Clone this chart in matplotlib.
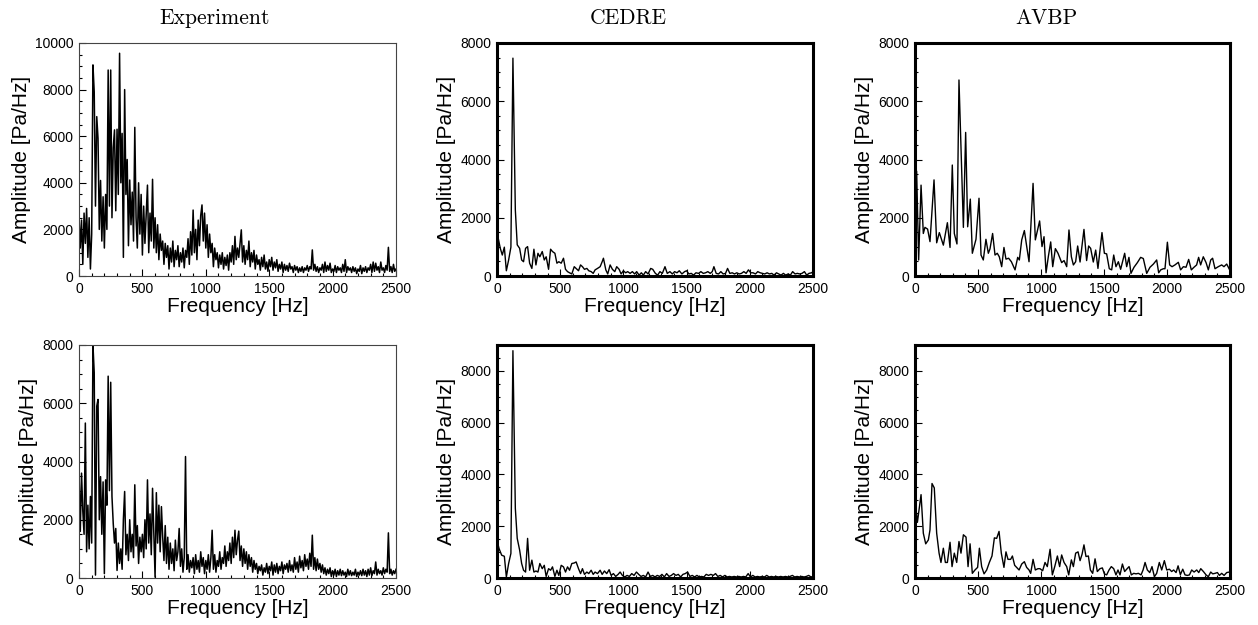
import numpy as np
import matplotlib
matplotlib.use('Agg')
import matplotlib.pyplot as plt
from matplotlib.ticker import MultipleLocator

plt.rcParams['font.family'] = 'Liberation Sans'

# column titles
titles = ['Experiment', 'CEDRE', 'AVBP']

# Experiment spectra, 10 Hz bins from 0 Hz
exp_top_amp = [
    2600, 1200, 2400, 500, 2700, 1400, 2900, 800, 2500, 300,
    1800, 9060, 7900, 3000, 6840, 5900, 2000, 4100, 1500, 3400,
    1200, 3500, 2000, 8840, 3000, 8840, 2500, 5500, 6270, 2800,
    6300, 3500, 9560, 4000, 6120, 800, 8000, 3500, 5000, 1300,
    4120, 2200, 3600, 1500, 6380, 2500, 1200, 4000, 1800, 3500,
    900, 3000, 1400, 2600, 3900, 1000, 2700, 1500, 4150, 1200,
    2500, 1000, 2200, 700, 1800, 1100, 1500, 500, 1400, 800,
    1300, 300, 1200, 600, 1500, 400, 1100, 700, 1300, 400,
    1000, 600, 1200, 350, 1100, 800, 1600, 500, 1900, 900,
    2830, 1000, 2000, 700, 2400, 1300, 2600, 3050, 1500, 2700,
    1200, 2200, 800, 1800, 1000, 1400, 400, 1200, 700, 1000,
    350, 900, 500, 1000, 300, 800, 450, 900, 250, 1000,
    600, 1300, 500, 1700, 700, 1200, 800, 1400, 1980, 600,
    1300, 500, 1100, 700, 1500, 400, 1000, 600, 1100, 300,
    900, 500, 700, 250, 800, 400, 900, 300, 600, 200,
    700, 400, 800, 250, 600, 350, 700, 200, 500, 300,
    600, 150, 500, 250, 450, 200, 550, 300, 400, 150,
    450, 250, 400, 150, 350, 200, 400, 150, 350, 250,
    450, 200, 400, 300, 1120, 250, 500, 200, 400, 150,
    350, 250, 500, 150, 600, 200, 450, 250, 550, 150,
    300, 200, 450, 150, 400, 250, 350, 150, 500, 200,
    700, 150, 400, 250, 350, 150, 400, 200, 350, 100,
    300, 200, 450, 100, 350, 200, 400, 150, 350, 250,
    500, 150, 600, 200, 550, 250, 400, 150, 600, 250,
    350, 150, 450, 250, 1230, 200, 400, 150, 500, 200,
    300,
]

exp_bot_amp = [
    3700, 1600, 3600, 2300, 1500, 5320, 900, 2500, 1000, 2800,
    1200, 8000, 7050, 100, 5900, 6130, 2000, 3480, 1500, 3300,
    150, 3370, 2500, 6930, 3000, 6720, 2800, 1870, 1200, 1700,
    260, 1200, 500, 1000, 300, 2000, 2970, 800, 1500, 600,
    2000, 900, 1500, 700, 3200, 1100, 1800, 500, 1400, 900,
    1500, 700, 2000, 1000, 3370, 1200, 2200, 800, 3080, 1500,
    30, 2930, 1200, 2500, 900, 2450, 1400, 600, 1800, 500,
    1400, 300, 1200, 500, 1000, 250, 1300, 600, 900, 1700,
    400, 1000, 200, 700, 4170, 300, 800, 200, 600, 350,
    700, 150, 800, 300, 600, 200, 900, 400, 700, 150,
    600, 300, 800, 200, 700, 1640, 300, 800, 200, 600,
    400, 900, 300, 700, 500, 1100, 400, 900, 600, 1200,
    500, 1400, 700, 1640, 800, 1300, 1610, 600, 1100, 400,
    1000, 500, 900, 300, 800, 400, 700, 200, 600, 300,
    500, 150, 400, 250, 450, 100, 350, 200, 500, 150,
    400, 250, 550, 100, 450, 200, 500, 150, 400, 250,
    550, 150, 450, 300, 500, 200, 600, 250, 450, 200,
    700, 300, 550, 200, 750, 350, 600, 250, 800, 400,
    650, 300, 850, 400, 1470, 300, 700, 250, 650, 300,
    500, 200, 450, 150, 350, 100, 300, 150, 350, 50,
    250, 100, 300, 50, 250, 100, 300, 80, 250, 100,
    200, 50, 300, 100, 250, 80, 200, 100, 300, 50,
    200, 100, 250, 80, 300, 100, 250, 50, 300, 100,
    350, 80, 250, 150, 550, 100, 300, 150, 250, 100,
    350, 150, 300, 200, 1550, 150, 300, 100, 250, 150,
    300,
]

# CEDRE spectra
cedre_top_freq = [
    0, 26, 42, 58, 74, 92, 110, 126, 145, 160, 179, 195, 210, 226, 242,
    258, 276, 292, 308, 324, 339, 358, 374, 389, 408, 424, 439, 458, 474,
    489, 508, 526, 542, 558, 574, 592, 611, 626, 645, 661, 676, 692, 711,
    726, 745, 761, 776, 795, 816, 832, 842, 861, 876, 895, 913, 932, 947,
    966, 982, 1000, 1018, 1034, 1053, 1071, 1089, 1105, 1124, 1142, 1158,
    1176, 1195, 1216, 1232, 1253, 1271, 1289, 1308, 1329, 1347, 1368, 1387,
    1405, 1424, 1442, 1463, 1484, 1500, 1518, 1537, 1555, 1574, 1595, 1613,
    1632, 1650, 1668, 1687, 1703, 1716, 1734, 1753, 1771, 1789, 1808, 1824,
    1842, 1861, 1879, 1897, 1916, 1934, 1953, 1971, 1989, 2008, 2026, 2045,
    2063, 2082, 2100, 2118, 2137, 2155, 2174, 2192, 2211, 2229, 2247, 2266,
    2284, 2303, 2321, 2339, 2358, 2376, 2395, 2413, 2432, 2450, 2468, 2489,
    2500,
]
cedre_top_amp = [
    1500, 950, 720, 990, 180, 550, 990, 7480, 2270, 1070, 950, 550, 490, 950, 1010,
    440, 260, 920, 380, 780, 660, 840, 550, 660, 230, 920, 840, 780, 440,
    490, 440, 610, 230, 150, 110, 70, 320, 260, 180, 380, 320, 230, 260,
    180, 150, 90, 210, 260, 320, 490, 610, 210, 70, 380, 230, 150, 320,
    230, 70, 180, 110, 150, 90, 150, 70, 150, 30, 110, 30,
    150, 70, 260, 230, 90, 30, 150, 90, 320, 90, 150, 70,
    150, 110, 180, 70, 150, 180, 70, 90, 30, 110, 90, 150,
    90, 110, 150, 90, 150, 320, 90, 70, 150, 70, 90, 260,
    90, 110, 70, 110, 70, 90, 150, 90, 210, 110, 110, 70,
    150, 110, 90, 70, 110, 70, 90, 30, 110, 70, 30, 90,
    30, 70, 30, 150, 70, 90, 70, 90, 150, 30, 90, 110,
    150,
]

cedre_bot_freq = [
    0, 16, 37, 58, 74, 92, 110, 126, 145, 160, 179, 195, 210, 226, 242,
    258, 276, 292, 308, 324, 339, 358, 374, 389, 408, 424, 439, 458, 474,
    489, 508, 526, 542, 558, 574, 592, 611, 626, 645, 661, 676, 692, 711,
    726, 745, 761, 776, 795, 816, 832, 850, 868, 887, 903, 921, 939, 958,
    974, 992, 1011, 1029, 1047, 1066, 1084, 1103, 1121, 1139, 1158, 1176,
    1195, 1213, 1232, 1250, 1268, 1287, 1305, 1324, 1342, 1361, 1379, 1397,
    1416, 1434, 1453, 1471, 1489, 1508, 1526, 1545, 1563, 1582, 1600, 1618,
    1637, 1655, 1674, 1692, 1711, 1729, 1747, 1766, 1784, 1803, 1821, 1839,
    1858, 1876, 1895, 1913, 1932, 1950, 1968, 1987, 2005, 2024, 2042, 2061,
    2079, 2097, 2116, 2134, 2153, 2171, 2189, 2208, 2226, 2245, 2263, 2282,
    2300, 2318, 2337, 2355, 2374, 2392, 2411, 2429, 2447, 2466, 2484, 2500,
]
cedre_bot_amp = [
    1460, 1140, 880, 840, 40, 560, 950, 8780, 2690, 1530, 1080, 560, 300, 230, 1530,
    300, 690, 230, 270, 230, 560, 360, 490, 60, 360, 300, 430, 60, 300,
    100, 490, 430, 230, 430, 300, 560, 580, 620, 360, 170, 360, 140, 230,
    170, 300, 140, 230, 170, 300, 140, 270, 170, 320, 100, 170, 60, 140,
    230, 100, 40, 100, 60, 170, 100, 230, 140, 60, 100, 40,
    230, 60, 100, 40, 100, 60, 140, 40, 170, 60, 100, 170,
    100, 140, 40, 140, 170, 230, 60, 100, 40, 100, 40, 60,
    40, 140, 100, 140, 100, 170, 60, 100, 40, 100, 40, 60,
    40, 60, 40, 60, 40, 60, 40, 170, 40, 100, 40, 60,
    40, 60, 40, 100, 40, 60, 40, 60, 40, 60, 40, 60,
    40, 60, 100, 40, 60, 40, 60, 40, 60, 100, 40, 60,
]

# AVBP spectra
avbp_top_freq = [
    0, 13, 29, 48, 66, 79, 100, 119, 151, 172, 193, 225, 257, 278, 296,
    312, 333, 349, 384, 402, 418, 439, 455, 484, 508, 524, 542, 563, 582,
    595, 616, 635, 653, 669, 688, 706, 722, 743, 765, 794, 815, 828, 847,
    868, 886, 905, 937, 955, 989, 1008, 1024, 1040, 1058, 1077, 1093, 1114,
    1135, 1164, 1183, 1204, 1222, 1241, 1257, 1275, 1291, 1310, 1341, 1362,
    1378, 1394, 1415, 1434, 1452, 1484, 1503, 1521, 1542, 1561, 1577, 1595,
    1614, 1632, 1664, 1680, 1698, 1714, 1738, 1765, 1791, 1812, 1839, 1865,
    1892, 1918, 1934, 1950, 1971, 1984, 2003, 2021, 2040, 2063, 2090, 2108,
    2130, 2151, 2172, 2193, 2214, 2235, 2251, 2267, 2288, 2310, 2328, 2347,
    2362, 2381, 2407, 2434, 2452, 2474, 2495,
]
avbp_top_amp = [
    3640, 3600, 550, 3120, 1460, 1670, 1610, 1180, 3300, 1140, 1490, 1060, 1830, 980, 3810,
    1460, 1100, 6730, 1670, 4930, 1690, 2640, 780, 1260, 2670, 720, 550, 1260, 780,
    930, 1460, 720, 780, 660, 320, 980, 580, 610, 490, 210, 640, 550, 1240,
    1560, 1030, 490, 3180, 1240, 1890, 1010, 1350, 110, 660, 1170, 320, 940,
    780, 460, 530, 320, 1580, 660, 380, 490, 1030, 480, 1600, 530,
    1030, 950, 480, 890, 260, 1490, 780, 760, 250, 210, 720, 320,
    490, 230, 780, 320, 640, 90, 300, 460, 640, 600, 90, 300,
    410, 550, 110, 210, 250, 250, 1160, 380, 320, 380, 470, 210,
    320, 300, 570, 210, 300, 380, 640, 380, 660, 460, 210, 550,
    610, 250, 320, 380, 320, 410, 230,
]

avbp_bot_freq = [
    0, 19, 48, 66, 85, 106, 119, 135, 153, 172, 191, 206, 225, 241, 257,
    278, 294, 312, 331, 349, 365, 384, 405, 421, 437, 455, 476, 497, 511,
    529, 548, 569, 590, 611, 630, 648, 667, 685, 706, 722, 738, 759, 773,
    791, 807, 826, 847, 868, 886, 905, 918, 937, 955, 976, 992, 1013, 1032,
    1050, 1072, 1090, 1109, 1130, 1148, 1164, 1183, 1204, 1220, 1241, 1257,
    1275, 1294, 1310, 1326, 1341, 1357, 1376, 1392, 1410, 1429, 1447, 1468,
    1487, 1503, 1521, 1540, 1558, 1577, 1595, 1611, 1627, 1646, 1664, 1680,
    1699, 1717, 1736, 1754, 1773, 1794, 1810, 1826, 1844, 1863, 1881, 1900,
    1918, 1939, 1958, 1979, 1998, 2019, 2037, 2053, 2072, 2088, 2106, 2125,
    2143, 2162, 2178, 2196, 2215, 2236, 2252, 2268, 2289, 2310, 2328, 2347,
    2363, 2381, 2400, 2416, 2434, 2453, 2474, 2495,
]
avbp_bot_amp = [
    3030, 2150, 3220, 1730, 1320, 1470, 1860, 3650, 3480, 1730, 960, 600, 1150, 600, 600,
    1380, 440, 960, 600, 1410, 960, 1670, 1580, 440, 1320, 180, 310, 410, 1150,
    440, 160, 310, 600, 850, 1550, 1530, 1800, 960, 410, 1010, 720, 720, 850,
    490, 410, 310, 540, 630, 410, 310, 180, 720, 310, 360, 360, 280, 600,
    440, 1110, 120, 440, 850, 440, 890, 600, 440, 120, 700, 440,
    960, 1010, 670, 920, 1280, 830, 850, 310, 180, 740, 250, 360,
    390, 160, 120, 310, 440, 360, 120, 310, 120, 540, 250, 340,
    440, 120, 180, 160, 180, 120, 310, 600, 310, 210, 440, 50,
    180, 600, 310, 670, 310, 340, 250, 310, 210, 470, 130, 340,
    120, 100, 120, 310, 230, 310, 210, 360, 250, 120, 50, 230,
    160, 180, 210, 100, 180, 100, 210, 230,
]

exp_top_freq = 10 * np.arange(len(exp_top_amp))
exp_bot_freq = 10 * np.arange(len(exp_bot_amp))

W, H = 1258, 625
fig = plt.figure(figsize=(W / 100, H / 100), dpi=100)

# axes boxes in pixels: left, top, right, bottom
cols = [(79, 396), (497, 813), (915, 1230)]
rows = [(43, 276), (345, 578)]

panels = [
    [(exp_top_freq, exp_top_amp, 10000), (cedre_top_freq, cedre_top_amp, 8000), (avbp_top_freq, avbp_top_amp, 8000)],
    [(exp_bot_freq, exp_bot_amp, 8000), (cedre_bot_freq, cedre_bot_amp, 9000), (avbp_bot_freq, avbp_bot_amp, 9000)],
]

for r, (top, bot) in enumerate(rows):
    for c, (left, right) in enumerate(cols):
        ax = fig.add_axes([left / W, 1 - bot / H, (right - left) / W, (bot - top) / H])
        f, a, ymax = panels[r][c]
        is_exp = (c == 0)
        ax.plot(f, a, color='black', lw=1.1 if is_exp else 1.0)
        ax.set_xlim(0, 2500)
        ax.set_ylim(0, ymax)
        ax.xaxis.set_major_locator(MultipleLocator(500))
        ax.xaxis.set_minor_locator(MultipleLocator(100))
        ax.yaxis.set_major_locator(MultipleLocator(2000))
        ax.yaxis.set_minor_locator(MultipleLocator(500))
        ax.tick_params(which='both', direction='in', top=False, right=False,
                       labelsize=10, pad=4, width=0.8)
        ax.tick_params(which='major', length=5)
        ax.tick_params(which='minor', length=2.5)
        for s in ax.spines.values():
            if is_exp:
                s.set_linewidth(0.8)
                s.set_color('#444444')
            else:
                s.set_linewidth(2.2)
                s.set_color('black')
        ax.set_xlabel('Frequency [Hz]', fontsize=15, labelpad=1)
        ax.set_ylabel('Amplitude [Pa/Hz]', fontsize=15, labelpad=3)

# column titles in a serif face
title_x = [215, 628, 1046]
for t, x in zip(titles, title_x):
    fig.text(x / W, 1 - 18 / H, t, ha='center', va='center', fontsize=15.5, family='cmr10')

fig.savefig('out.png', dpi=100)
